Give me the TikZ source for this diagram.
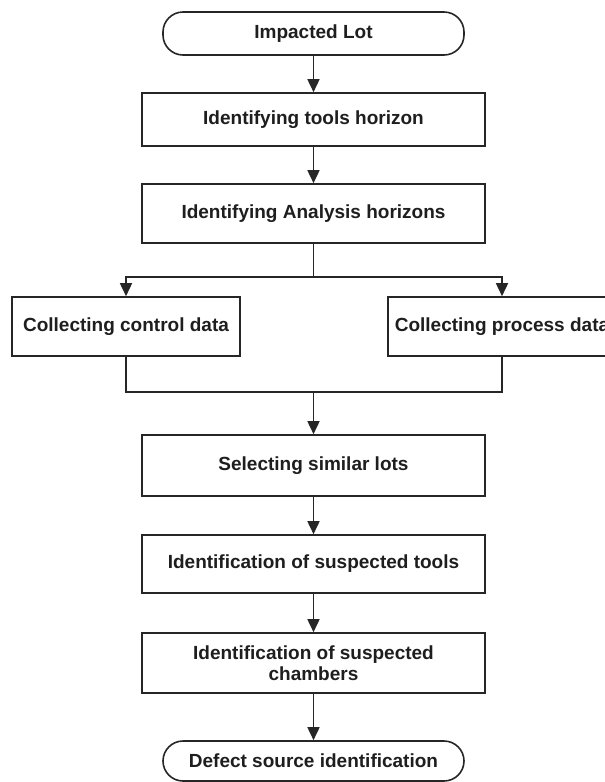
\documentclass[tikz,border=0pt]{standalone}
\usepackage{fontspec}
\setmainfont{Liberation Sans}
\usetikzlibrary{arrows.meta}
\definecolor{ln}{HTML}{262626}
\definecolor{tx}{HTML}{1E1E1E}
\tikzset{
  base/.style={draw=ln, line width=1.6pt, fill=white, text=tx, inner sep=2pt,
    font=\fontsize{19}{21.5}\selectfont\bfseries, align=center},
  procbox/.style={base, minimum width=343pt},
  sidebox/.style={base, minimum width=228pt, minimum height=59pt},
  term/.style={base, minimum width=301pt, rounded corners=20pt},
  conn/.style={draw=ln, line width=1.6pt},
  arr/.style={conn, -{Triangle[width=12pt,length=13pt]}}
}
\begin{document}
\begin{tikzpicture}[x=1pt,y=1pt]
\useasboundingbox (0,0) rectangle (605,-782);
\clip (0,0) rectangle (605,-782);
\node[term, minimum height=43pt] (st) at (313.5,-33.5) {Impacted Lot};
\node[procbox, minimum height=53pt] (b1) at (313.5,-119.5) {Identifying tools horizon};
\node[procbox, minimum height=59pt] (b2) at (313.5,-213.5) {Identifying Analysis horizons};
\node[sidebox] (c1) at (126,-326.5) {Collecting control data};
\node[sidebox] (c2) at (502,-326.5) {Collecting process data};
\node[procbox, minimum height=61pt] (s1) at (313.5,-465.5) {Selecting similar lots};
\node[procbox, minimum height=58pt] (s2) at (313.5,-564) {Identification of suspected tools};
\node[procbox, minimum height=60pt] (s3) at (313.5,-663) {Identification of suspected\\chambers};
\node[term, minimum height=40pt] (en) at (313.5,-761) {Defect source identification};
\coordinate (sp) at (313.5,-277);
\coordinate (mg) at (313.5,-392);
\draw[arr] (st) -- (b1);
\draw[arr] (b1) -- (b2);
\draw[conn] (b2.south) -- (sp);
\draw[arr] (sp) -| (c1.north);
\draw[arr] (sp) -| (c2.north);
\draw[conn] (c1.south) |- (mg);
\draw[conn] (c2.south) |- (mg);
\draw[arr] (mg) -- (s1.north);
\draw[arr] (s1) -- (s2);
\draw[arr] (s2) -- (s3);
\draw[arr] (s3) -- (en);
\end{tikzpicture}
\end{document}
